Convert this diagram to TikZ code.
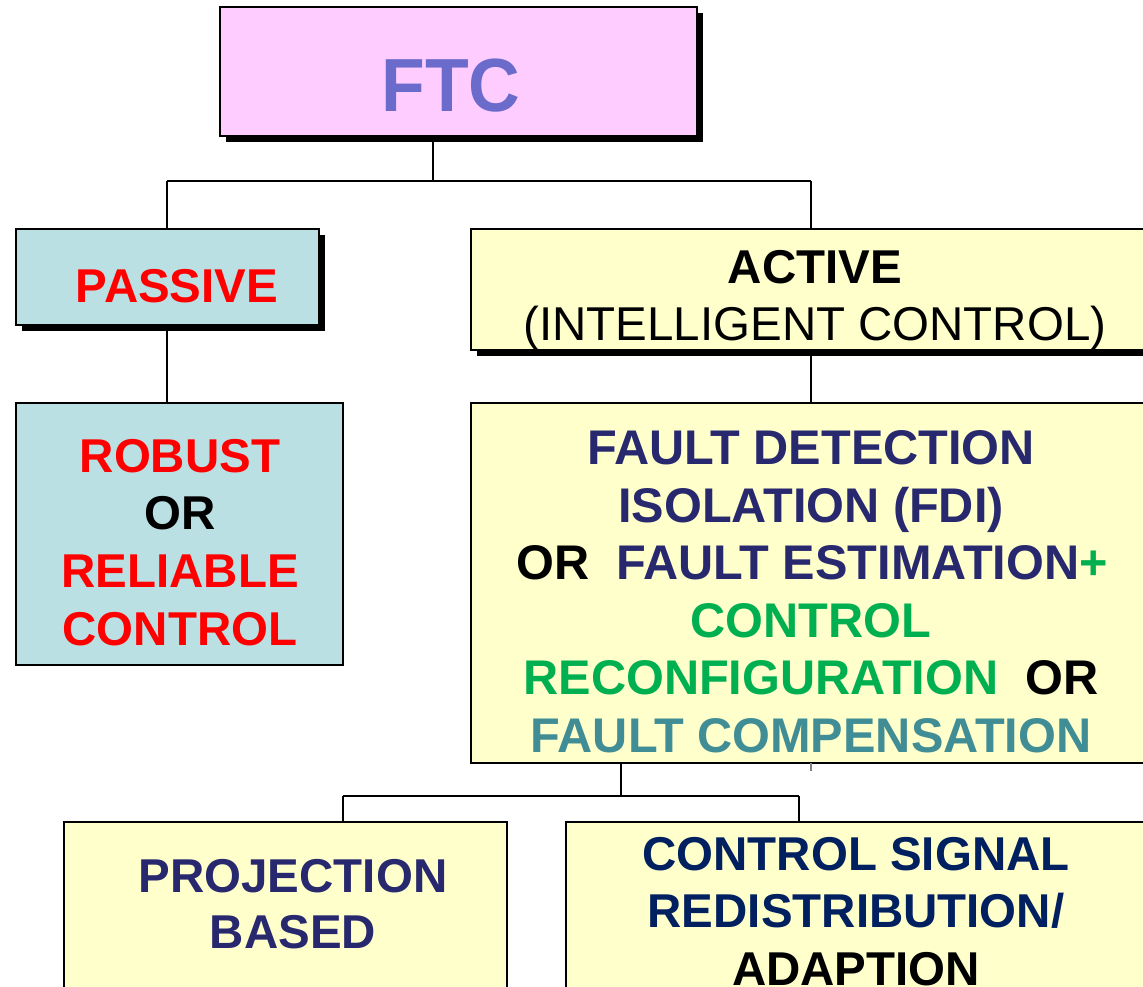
\documentclass[tikz,border=0pt]{standalone}
\usepackage{fontspec}
\setmainfont{Liberation Sans}
\newfontfamily\ftcfont[FakeStretch=0.95]{Liberation Sans}
\usetikzlibrary{fit,shadows}

\definecolor{ftcpink}{HTML}{FFCCFF}
\definecolor{ftcblue}{HTML}{6B6BCC}
\definecolor{passblue}{HTML}{BBE0E3}
\definecolor{actyellow}{HTML}{FFFFCC}
\definecolor{fdinavy}{HTML}{28286E}
\definecolor{signavy}{HTML}{002060}
\definecolor{recgreen}{HTML}{00B050}
\definecolor{compteal}{HTML}{408D95}
\definecolor{hardred}{HTML}{FF0000}

\begin{document}
\begin{tikzpicture}[x=0.75pt,y=-0.75pt,
  box/.style={draw=black, line width=1.5pt, inner sep=0pt, outer sep=0pt},
  shadowbox/.style={box, drop shadow={shadow xshift=4.5pt, shadow yshift=-4.5pt, opacity=1, fill=black}},
  conn/.style={draw=black, line width=1.1pt},
  lbl/.style={anchor=base, inner sep=0pt, font=\bfseries\fontsize{35.6}{43}\selectfont},
  fdilbl/.style={anchor=base, inner sep=0pt, font=\bfseries\fontsize{36.5}{43}\selectfont},
  thin lbl/.style={anchor=base, inner sep=0pt, font=\fontsize{35.6}{43}\selectfont},
]
\clip (0,0) rectangle (1143,986);
\fill[white] (0,0) rectangle (1143,986);

% boxes
\node[shadowbox, fill=ftcpink, fit={(220,7) (697,136)}] (ftc) {};
\node[shadowbox, fill=passblue, fit={(16,229) (319,325)}] (passive) {};
\node[box, fill=passblue, fit={(16,403) (343,665)}] (robust) {};
\node[shadowbox, fill=actyellow, fit={(471,229) (1170,350)}] (active) {};
\node[box, fill=actyellow, fit={(471,403) (1170,763)}] (fdi) {};
\node[box, fill=actyellow, fit={(64,822) (507,1010)}] (proj) {};
\node[box, fill=actyellow, fit={(566,822) (1170,1010)}] (signal) {};

% junction points of the tree
\coordinate (jtop) at (433,181);
\coordinate (jl) at (167,181);
\coordinate (jr) at (811,181);
\coordinate (jmid) at (621,796);
\coordinate (jbl) at (343,796);
\coordinate (jbr) at (799,796);

% connectors
\draw[conn] (ftc.south -| jtop) -- (jtop);
\draw[conn] (jl) -- (jr);
\draw[conn] (jl) -- (jl |- passive.north);
\draw[conn] (jr) -- (jr |- active.north);
\draw[conn] ([yshift=-4.5pt]passive.south -| jl) -- (robust.north -| jl);
\draw[conn] ([yshift=-4.5pt]active.south -| jr) -- (fdi.north -| jr);
\draw[conn] (fdi.south -| jmid) -- (jmid);
\draw[conn] (jbl) -- (jbr);
\draw[conn] (jbl) -- (proj.north -| jbl);
\draw[conn] (jbr) -- (signal.north -| jbr);
\draw[gray, line width=0.8pt] (fdi.south -| jr) -- ++(0,8);

% labels
\node[lbl, text=ftcblue, font=\ftcfont\bfseries\fontsize{56.5}{60}\selectfont] (ftct) at (451,111) {FTC};

\node[lbl, text=hardred] (passt) at (177,302) {PASSIVE};

\node[lbl, text=hardred] (rob1) at (180,472) {ROBUST};
\node[lbl, text=black] (rob2) at (180,529) {OR};
\node[lbl, text=hardred] (rob3) at (180,587) {RELIABLE};
\node[lbl, text=hardred] (rob4) at (180,645) {CONTROL};

\node[lbl, text=black] (act1) at (815,283) {ACTIVE};
\node[thin lbl, text=black] (act2) at (815,340) {(INTELLIGENT CONTROL)};

\node[fdilbl, text=fdinavy] (fdi1) at (811,464) {FAULT DETECTION};
\node[fdilbl, text=fdinavy] (fdi2) at (811,522) {ISOLATION (FDI)};
\node[fdilbl] (fdi3) at (812,579) {\textcolor{black}{OR}\ \ \textcolor{fdinavy}{FAULT ESTIMATION}\textcolor{recgreen}{+}};
\node[fdilbl, text=recgreen] (fdi4) at (811,637) {CONTROL};
\node[fdilbl] (fdi5) at (811,694) {\textcolor{recgreen}{RECONFIGURATION}\ \ \textcolor{black}{OR}};
\node[fdilbl, text=compteal] (fdi6) at (811,752) {FAULT COMPENSATION};

\node[lbl, text=fdinavy] (proj1) at (293,892) {PROJECTION};
\node[lbl, text=fdinavy] (proj2) at (293,948) {BASED};

\node[lbl, text=signavy] (sig1) at (856,870) {CONTROL SIGNAL};
\node[lbl, text=signavy] (sig2) at (856,927) {REDISTRIBUTION/};
\node[lbl, text=black] (sig3) at (856,985) {ADAPTION};
\end{tikzpicture}
\end{document}
